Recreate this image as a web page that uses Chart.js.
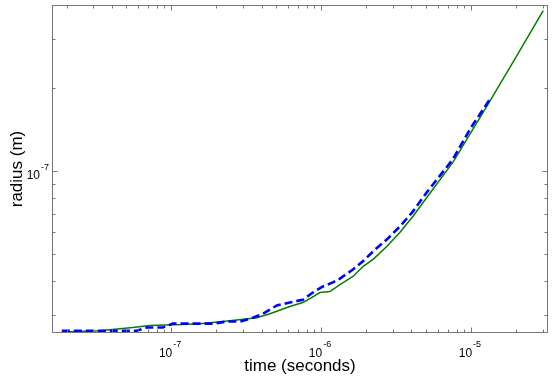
<!DOCTYPE html>
<html>
<head>
<meta charset="utf-8">
<script src="https://cdn.jsdelivr.net/npm/chart.js@4/dist/chart.umd.min.js"></script>
<style>
  body { margin: 0; background: #fff; }
  #wrap { width: 554px; height: 379px; position: relative; }
</style>
</head>
<body>
<div id="wrap"><canvas id="myChart"></canvas></div>
<script>
// solid green curve: time (s) and radius (m)
var greenTime = [1.89e-8, 3.33e-8, 5.53e-8, 7.18e-8, 1.19e-7, 1.55e-7, 2.21e-7, 3.72e-7, 4.55e-7,
  6.18e-7, 7.55e-7, 8.41e-7, 9.81e-7, 1.144e-6, 1.334e-6, 1.63e-6, 1.90e-6, 2.22e-6, 2.75e-6,
  3.36e-6, 4.10e-6, 5.08e-6, 7.58e-6, 1.279e-5, 1.967e-5, 3.03e-5];
var greenRadius = [2.61e-8, 2.64e-8, 2.71e-8, 2.76e-8, 2.78e-8, 2.80e-8, 2.85e-8, 2.94e-8, 3.04e-8,
  3.23e-8, 3.34e-8, 3.45e-8, 3.63e-8, 3.66e-8, 3.88e-8, 4.15e-8, 4.51e-8, 4.79e-8, 5.34e-8,
  6.00e-8, 6.86e-8, 8.04e-8, 1.078e-7, 1.723e-7, 2.555e-7, 3.82e-7];

// dashed blue curve
var blueTime = [1.86e-8, 5.88e-8, 6.86e-8, 8.78e-8, 1.023e-7, 1.893e-7, 2.35e-7, 2.87e-7, 3.50e-7,
  4.08e-7, 5.06e-7, 6.18e-7, 7.55e-7, 8.81e-7, 1.027e-6, 1.198e-6, 1.334e-6, 1.63e-6, 1.90e-6,
  2.22e-6, 2.75e-6, 3.36e-6, 4.10e-6, 5.08e-6, 7.58e-6, 9.85e-6, 1.34e-5];
var blueRadius = [2.64e-8, 2.64e-8, 2.71e-8, 2.71e-8, 2.80e-8, 2.80e-8, 2.85e-8, 2.85e-8, 2.94e-8,
  3.04e-8, 3.26e-8, 3.34e-8, 3.42e-8, 3.63e-8, 3.82e-8, 3.95e-8, 4.08e-8, 4.40e-8, 4.71e-8,
  5.12e-8, 5.66e-8, 6.31e-8, 7.15e-8, 8.39e-8, 1.106e-7, 1.421e-7, 1.827e-7];

// labelled decades
var xTickExps = [-7, -6, -5];
var yTickExps = [-7];

var xMin = 1.6e-8, xMax = 3.26e-5;
var yMin = 2.59e-8, yMax = 4.0e-7;

const axisColor = "#777";
const font = "'Liberation Sans', Arial, Helvetica, sans-serif";

function toPoints(xs, ys) {
  var arr = [];
  for (let i = 0; i < xs.length; i++) arr.push({ x: xs[i], y: ys[i] });
  return arr;
}

// boxed axes with inward ticks and 10^n labels
const boxAxes = {
  id: "boxAxes",
  afterDraw(chart) {
    const ctx = chart.ctx;
    const a = chart.chartArea;
    const sx = chart.scales.x, sy = chart.scales.y;
    const L = Math.round(a.left) + 0.5, R = Math.round(a.right) - 0.5;
    const T = Math.round(a.top) + 0.5, B = Math.round(a.bottom) - 0.5;
    ctx.save();
    ctx.strokeStyle = axisColor;
    ctx.lineWidth = 1;
    ctx.strokeRect(L, T, R - L, B - T);

    ctx.beginPath();
    for (let k = -9; k <= -4; k++) {
      for (let m = 1; m <= 9; m++) {
        const v = m * Math.pow(10, k);
        const len = m === 1 ? 5 : 3;
        if (v >= xMin && v <= xMax) {
          const px = Math.round(sx.getPixelForValue(v)) + 0.5;
          ctx.moveTo(px, B); ctx.lineTo(px, B - len);
          ctx.moveTo(px, T); ctx.lineTo(px, T + len);
        }
        if (v >= yMin && v <= yMax) {
          const py = Math.round(sy.getPixelForValue(v)) + 0.5;
          ctx.moveTo(L, py); ctx.lineTo(L + len, py);
          ctx.moveTo(R, py); ctx.lineTo(R - len, py);
        }
      }
    }
    ctx.stroke();

    ctx.fillStyle = "#000";
    xTickExps.forEach(function (e) {
      const px = sx.getPixelForValue(Math.pow(10, e));
      ctx.font = "12px " + font;
      ctx.textAlign = "right";
      ctx.textBaseline = "alphabetic";
      ctx.fillText("10", px + 1, 357);
      ctx.font = "9px " + font;
      ctx.textAlign = "left";
      ctx.fillText("-" + Math.abs(e), px + 2, 347);
    });
    yTickExps.forEach(function (e) {
      const py = sy.getPixelForValue(Math.pow(10, e));
      ctx.font = "12px " + font;
      ctx.textAlign = "right";
      ctx.textBaseline = "alphabetic";
      ctx.fillText("10", 40, py + 8);
      ctx.font = "9px " + font;
      ctx.textAlign = "left";
      ctx.fillText("-" + Math.abs(e), 41, py - 1);
    });

    ctx.font = "17px " + font;
    ctx.textAlign = "center";
    ctx.textBaseline = "middle";
    ctx.fillText("time (seconds)", (a.left + a.right) / 2, 366);
    ctx.translate(17, (a.top + a.bottom) / 2);
    ctx.rotate(-Math.PI / 2);
    ctx.fillText("radius (m)", 0, 0);
    ctx.restore();
  },
};

const config = {
  type: "line",
  data: {
    datasets: [
      {
        label: "dashed",
        data: toPoints(blueTime, blueRadius),
        borderColor: "rgb(0, 0, 255)",
        borderWidth: 2.6,
        borderDash: [8, 4],
        pointRadius: 0,
        tension: 0,
        order: 0,
      },
      {
        label: "solid",
        data: toPoints(greenTime, greenRadius),
        borderColor: "rgb(0, 128, 0)",
        borderWidth: 1.5,
        pointRadius: 0,
        tension: 0,
        order: 1,
      },
    ],
  },
  options: {
    animation: false,
    responsive: true,
    maintainAspectRatio: false,
    layout: { padding: { left: 52, right: 6, top: 5, bottom: 46 } },
    plugins: {
      legend: { display: false },
      tooltip: { enabled: false },
    },
    scales: {
      x: {
        type: "logarithmic",
        display: false,
        min: xMin,
        max: xMax,
      },
      y: {
        type: "logarithmic",
        display: false,
        min: yMin,
        max: yMax,
      },
    },
  },
  plugins: [boxAxes],
};

new Chart(document.getElementById("myChart"), config);
</script>
</body>
</html>
